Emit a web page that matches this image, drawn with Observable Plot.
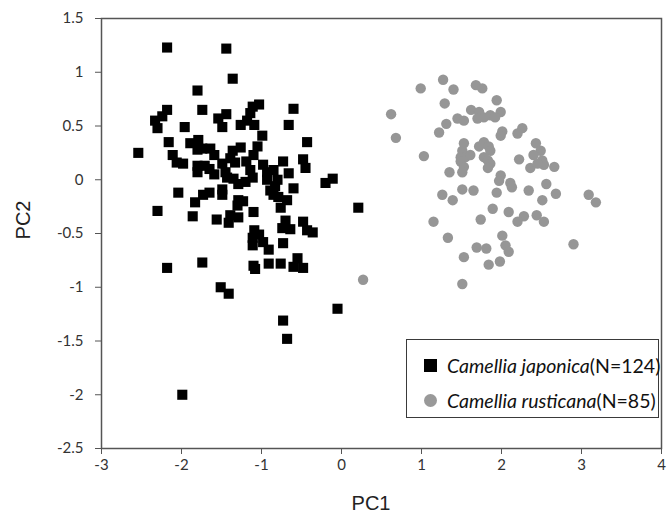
<!DOCTYPE html>
<html>
<head>
<meta charset="utf-8">
<script src="https://cdn.jsdelivr.net/npm/d3@7"></script>
<script src="https://cdn.jsdelivr.net/npm/@observablehq/plot@0.6"></script>
<style>
  html, body { margin: 0; padding: 0; background: #fff; }
  #wrap { position: relative; width: 670px; height: 516px; }
  #legend { position: absolute; left: 406px; top: 339px; width: 251px; height: 77px;
    border: 1px solid #3a3a3a; background: #fff; font-family: Lato, "Open Sans", sans-serif;
    font-size: 19.5px; color: #111; }
  .row { position: absolute; left: 0; height: 24px; line-height: 24px; white-space: nowrap; }
  .mk { position: absolute; left: 17px; top: 5px; width: 13px; height: 13px; }
  .lbl { position: absolute; left: 40px; top: 0; }
  .axt { position: absolute; font-family: "Liberation Sans", Arial, sans-serif; font-size: 20px;
    line-height: 20px; color: #222; white-space: nowrap; }
</style>
</head>
<body>
<div id="wrap"></div>
<script>
// Camellia japonica (N=124) — PC1 / PC2
const japonicaX = [-2.18,-1.44,-1.36,-1.80,-1.74,-2.18,-2.24,-2.33,-2.30,-1.96,-1.54,-1.44,-1.49,-1.26,-1.14,-1.11,-1.03,-1.18,-1.09,-0.99,
  -2.16,-1.89,-1.79,-1.80,-1.74,-1.64,-1.59,-1.36,-1.26,-1.39,-1.33,-1.05,-2.54,-2.11,-2.06,-1.98,-1.80,-1.71,-1.65,-1.59,
  -1.80,-1.49,-1.45,-1.35,-1.29,-1.20,-1.19,-1.14,-1.11,-0.98,-0.93,-0.85,-0.93,-0.83,-1.10,-0.60,-0.66,-0.43,-0.73,-0.48,
  -0.66,-0.45,-0.80,-0.60,-0.79,-0.68,-0.89,-0.20,-0.11,0.21,-1.10,-0.76,-0.70,-0.74,-0.64,-0.48,-0.43,-0.36,-1.09,-1.03,
  -1.11,-1.11,-0.98,-0.91,-0.73,-1.10,-1.08,-0.91,-0.76,-0.55,-0.60,-0.48,-0.05,-0.73,-0.68,-2.04,-1.73,-1.65,-1.83,-2.30,
  -1.86,-1.56,-1.41,-1.39,-1.29,-1.30,-1.23,-1.29,-1.49,-1.49,-0.85,-2.18,-1.74,-1.51,-1.41,-1.99,-1.43];
const japonicaY = [1.23,1.22,0.94,0.83,0.65,0.65,0.59,0.55,0.48,0.49,0.57,0.61,0.49,0.51,0.62,0.68,0.70,0.55,0.51,0.41,
  0.35,0.34,0.37,0.28,0.29,0.29,0.23,0.27,0.30,0.20,0.16,0.31,0.25,0.23,0.16,0.15,0.13,0.13,0.10,0.05,
  0.07,0.15,0.07,0.01,-0.04,-0.02,0.17,0.09,0.02,0.14,0.07,0.09,0.00,-0.06,0.23,0.66,0.51,0.35,0.17,0.19,
  0.06,0.11,0.00,-0.08,-0.16,-0.19,-0.10,-0.03,0.01,-0.26,-0.30,-0.26,-0.38,-0.45,-0.46,-0.39,-0.47,-0.49,-0.47,-0.51,
  -0.54,-0.61,-0.58,-0.65,-0.59,-0.80,-0.83,-0.78,-0.78,-0.73,-0.81,-0.82,-1.20,-1.31,-1.48,-0.12,-0.14,-0.12,-0.21,-0.29,
  -0.34,-0.37,-0.40,-0.33,-0.35,-0.24,-0.20,-0.19,-0.09,-0.14,-0.14,-0.82,-0.77,-1.00,-1.06,-2.00,0.02];

// Camellia rusticana (N=85) — PC1 / PC2
const rusticanaX = [0.62,0.68,0.99,1.27,1.40,1.68,1.76,1.94,1.29,1.62,1.72,1.78,1.70,1.86,1.99,1.92,1.45,1.53,1.31,1.22,
  2.01,1.99,1.53,1.51,1.49,1.55,1.61,1.49,1.53,1.72,1.78,1.84,1.86,1.78,1.83,1.86,1.83,1.03,1.35,1.51,
  1.99,1.97,2.11,2.13,1.51,1.65,1.26,1.39,1.94,1.89,2.09,1.15,1.74,2.01,2.05,2.09,1.33,1.69,1.81,1.53,
  1.84,1.98,1.51,0.27,2.26,2.20,2.43,2.49,2.40,2.51,2.53,2.36,2.45,2.22,2.66,2.56,2.34,2.68,2.51,3.09,
  3.18,2.28,2.20,2.44,2.53,2.90];
const rusticanaY = [0.61,0.39,0.85,0.93,0.84,0.88,0.85,0.74,0.71,0.65,0.63,0.58,0.57,0.60,0.63,0.58,0.57,0.55,0.52,0.44,
  0.45,0.41,0.34,0.27,0.21,0.21,0.23,0.17,0.12,0.31,0.35,0.31,0.27,0.21,0.18,0.15,0.11,0.22,0.07,0.07,
  0.04,-0.01,-0.03,-0.07,-0.09,-0.10,-0.14,-0.19,-0.12,-0.27,-0.30,-0.39,-0.37,-0.52,-0.61,-0.67,-0.54,-0.63,-0.64,-0.72,
  -0.79,-0.76,-0.97,-0.93,0.48,0.43,0.34,0.27,0.23,0.18,0.14,0.11,0.15,0.19,0.12,-0.04,-0.10,-0.13,-0.19,-0.14,
  -0.21,-0.34,-0.39,-0.33,-0.39,-0.60];

const xTicks = [-3,-2,-1,0,1,2,3,4];
const yTicks = [-2.5,-2,-1.5,-1,-0.5,0,0.5,1,1.5];

const japonica = japonicaX.map((x, i) => ({x, y: japonicaY[i]}));
const rusticana = rusticanaX.map((x, i) => ({x, y: rusticanaY[i]}));

const chart = Plot.plot({
  width: 670,
  height: 516,
  marginLeft: 101,
  marginRight: 9,
  marginTop: 18,
  marginBottom: 68,
  style: {fontFamily: "Lato, 'Open Sans', sans-serif", fontSize: "15px", color: "#333", background: "#fff"},
  x: {domain: [-3, 4]},
  y: {domain: [-2.5, 1.5]},
  marks: [
    Plot.axisX({ticks: xTicks, tickSize: 6, tickPadding: 5, tickFormat: d => String(d), label: null, stroke: "#555"}),
    Plot.axisY({ticks: yTicks, tickSize: 6, tickPadding: 12, tickFormat: d => String(d), label: null, stroke: "#555"}),
    Plot.dot(japonica, {x: "x", y: "y", symbol: "square", r: 5.7, fill: "#000", stroke: "none"}),
    Plot.dot(rusticana, {x: "x", y: "y", symbol: "circle", r: 5.2, fill: "#969696", stroke: "none"}),
    Plot.frame({stroke: "#555", strokeWidth: 1.5})
  ]
});

const wrap = document.getElementById("wrap");
wrap.appendChild(chart);

const legend = document.createElement("div");
legend.id = "legend";
legend.innerHTML = `
  <div class="row" style="top:14px"><div class="mk" style="background:#000"></div><div class="lbl"><i>Camellia japonica</i>(N=124)</div></div>
  <div class="row" style="top:49px"><div class="mk" style="background:#999;border-radius:50%"></div><div class="lbl"><i>Camellia rusticana</i>(N=85)</div></div>`;
wrap.appendChild(legend);

const pc1 = document.createElement("div");
pc1.className = "axt";
pc1.textContent = "PC1";
pc1.style.left = "371px";
pc1.style.top = "493px";
pc1.style.transform = "translateX(-50%)";
wrap.appendChild(pc1);

const pc2 = document.createElement("div");
pc2.className = "axt";
pc2.textContent = "PC2";
pc2.style.left = "23px";
pc2.style.top = "220px";
pc2.style.transform = "translate(-50%, -50%) rotate(-90deg)";
wrap.appendChild(pc2);
</script>
</body>
</html>
